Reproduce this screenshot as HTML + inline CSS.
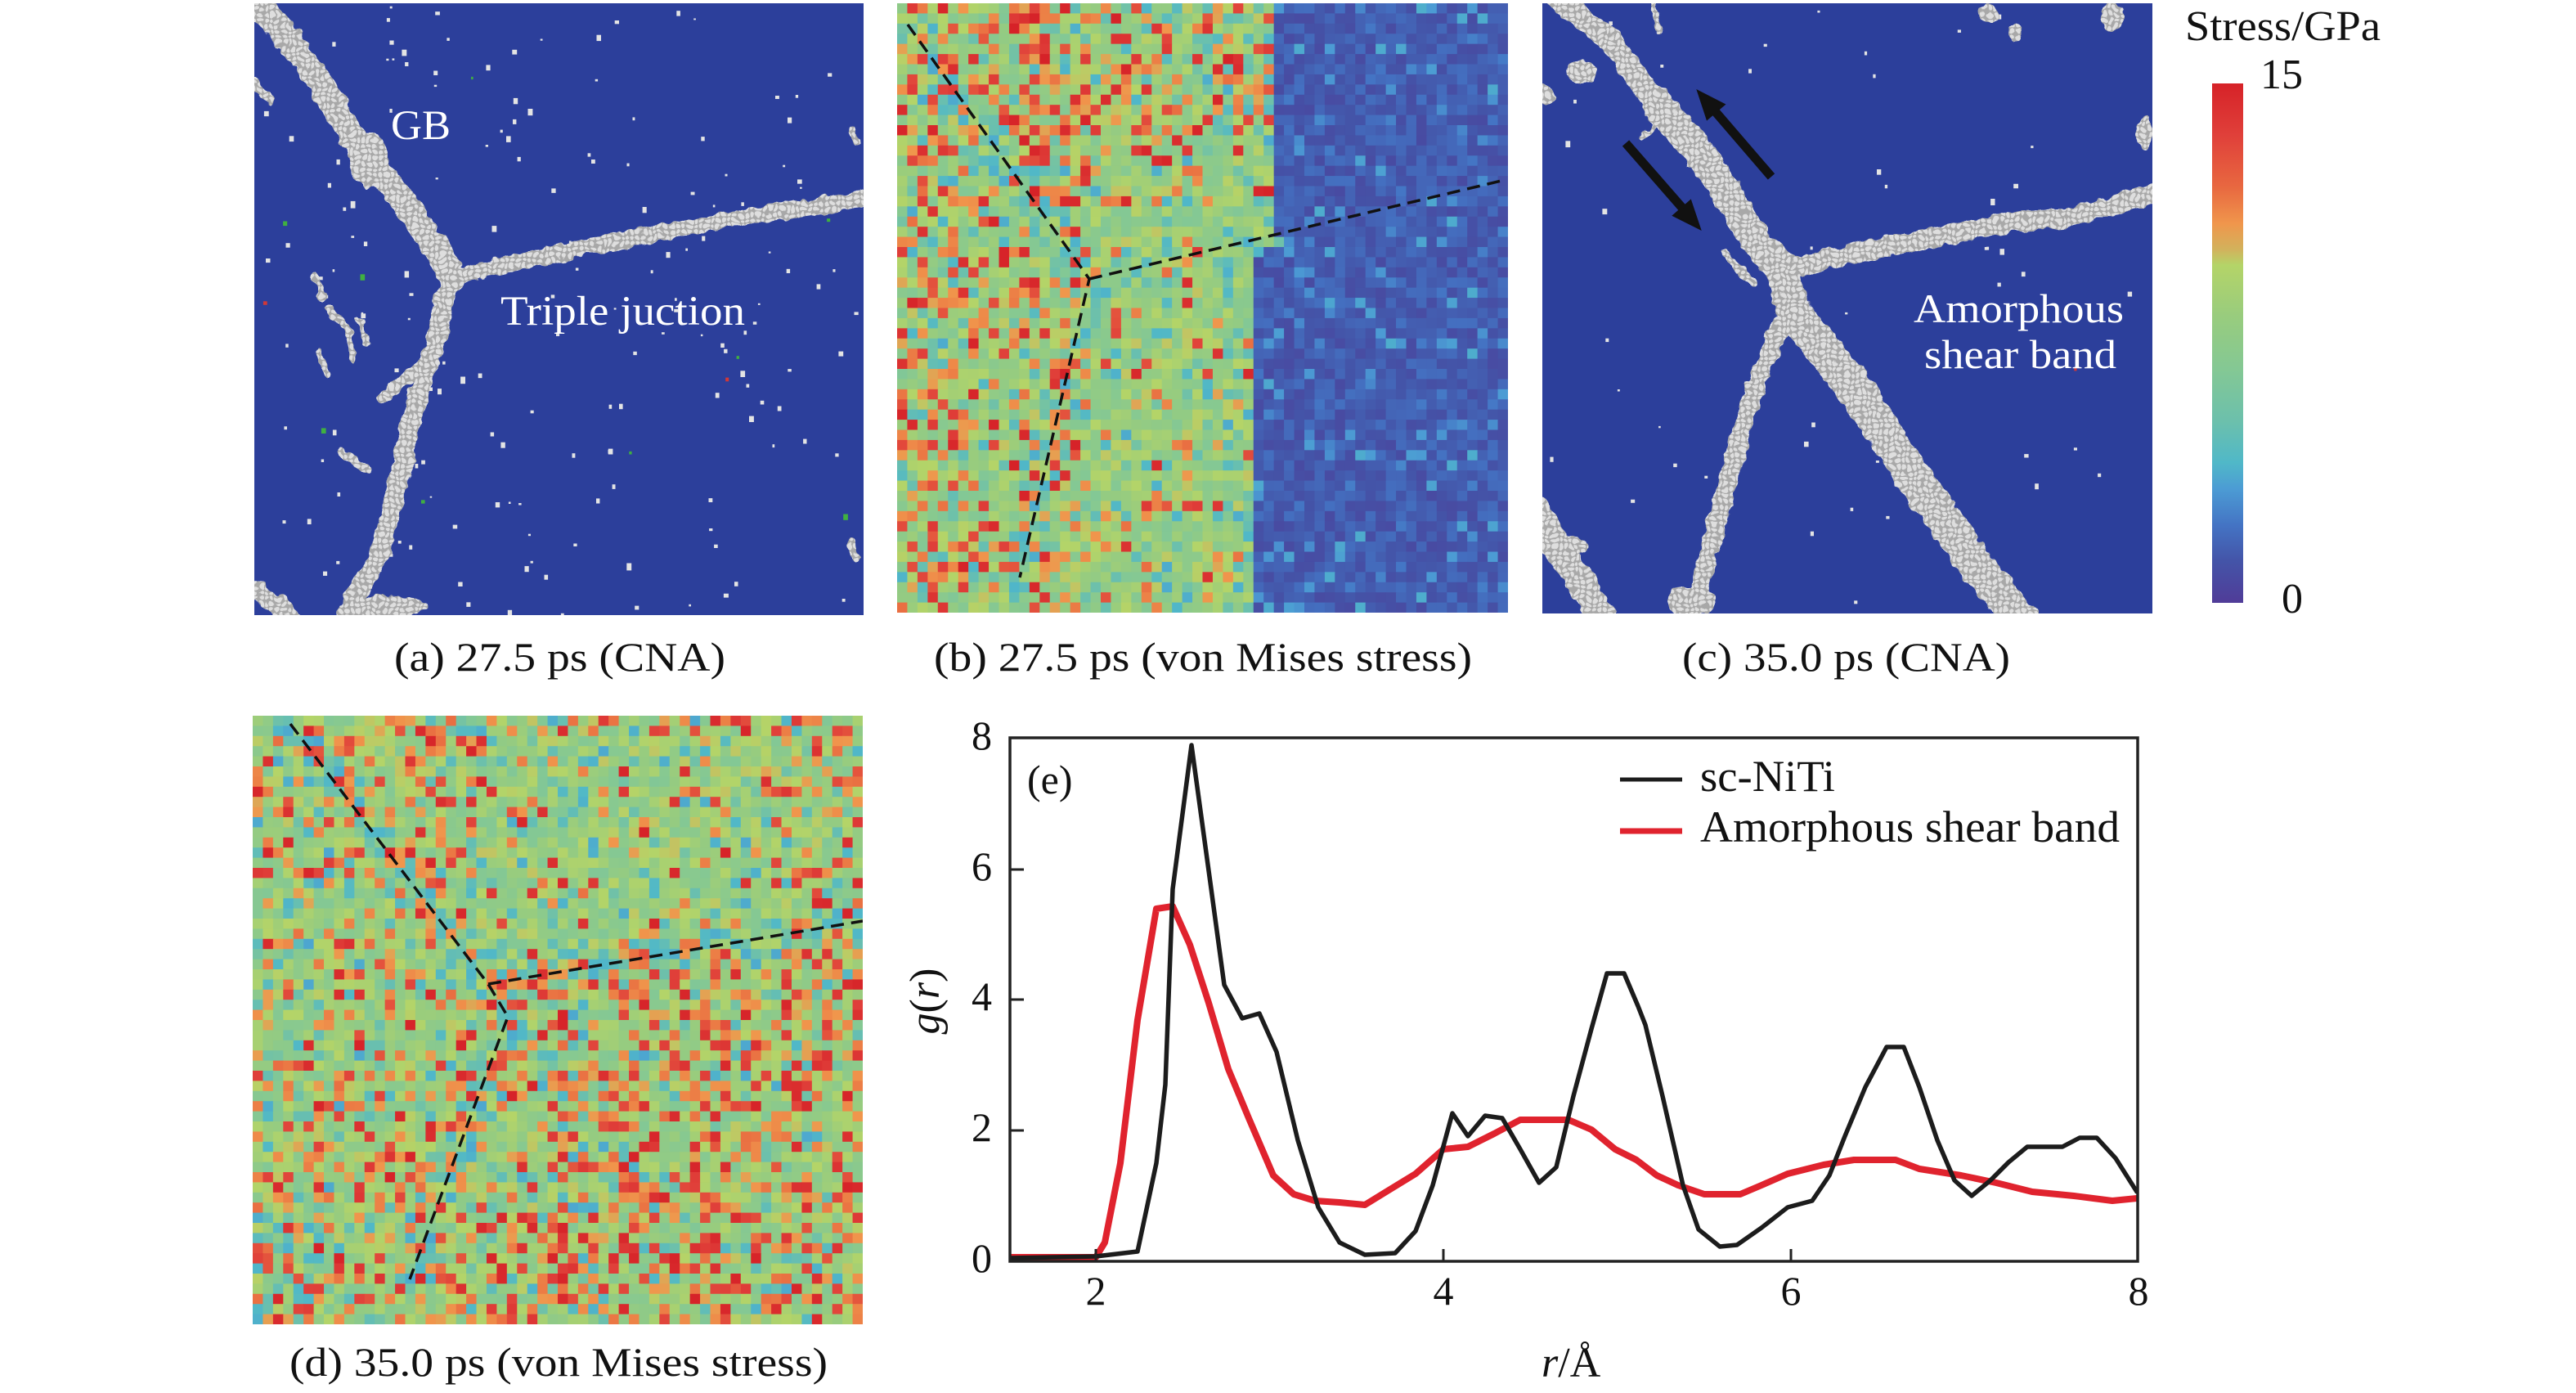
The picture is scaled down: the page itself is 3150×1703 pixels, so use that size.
<!DOCTYPE html>
<html><head><meta charset="utf-8">
<style>
html,body{margin:0;padding:0;background:#fff;}
body{width:3150px;height:1703px;overflow:hidden;}
svg{display:block;}
svg, text{font-family:"Liberation Serif","Times New Roman",Times,Tinos,"Nimbus Roman","FreeSerif",serif;}
</style></head>
<body>
<svg id="fig" width="3150" height="1703" viewBox="0 0 3150 1703" xmlns="http://www.w3.org/2000/svg" font-family="'Liberation Serif', 'Times New Roman', Times, serif">
<defs>
  <pattern id="atom" width="7" height="7" patternUnits="userSpaceOnUse">
    <rect width="7" height="7" fill="#a8a8a8"/>
    <circle cx="3.5" cy="3.5" r="2.9" fill="#dedede"/>
  </pattern>
  <filter id="rough" x="-10%" y="-10%" width="120%" height="120%">
    <feTurbulence type="fractalNoise" baseFrequency="0.07" numOctaves="2" seed="4" result="n"/>
    <feDisplacementMap in="SourceGraphic" in2="n" scale="12" xChannelSelector="R" yChannelSelector="G"/>
  </filter>
  <linearGradient id="cbar" x1="0" y1="0" x2="0" y2="1">
    <stop offset="0" stop-color="#d62228"/>
    <stop offset="0.1" stop-color="#e0403a"/>
    <stop offset="0.2" stop-color="#e86840"/>
    <stop offset="0.27" stop-color="#f0964c"/>
    <stop offset="0.32" stop-color="#d2b25c"/>
    <stop offset="0.35" stop-color="#b4d468"/>
    <stop offset="0.45" stop-color="#98cc7e"/>
    <stop offset="0.55" stop-color="#84c894"/>
    <stop offset="0.65" stop-color="#6cc0ac"/>
    <stop offset="0.73" stop-color="#50b8c8"/>
    <stop offset="0.78" stop-color="#4c9cd4"/>
    <stop offset="0.85" stop-color="#4474c4"/>
    <stop offset="0.92" stop-color="#4454a8"/>
    <stop offset="1" stop-color="#503c98"/>
  </linearGradient>
  <clipPath id="clipA"><rect x="311" y="4" width="745" height="748"/></clipPath>
  <clipPath id="clipB"><rect x="1097" y="4" width="747" height="745"/></clipPath>
  <clipPath id="clipC"><rect x="1886" y="4" width="746" height="746"/></clipPath>
  <clipPath id="clipD"><rect x="309" y="875" width="746" height="744"/></clipPath>
  <clipPath id="clipE"><rect x="1235" y="902" width="1379" height="640"/></clipPath>
</defs>

<!-- ============ Panel (a) CNA ============ -->
<g clip-path="url(#clipA)">
  <rect x="311" y="4" width="745" height="748" fill="#2c3f9b"/>
  <g id="dotsA"></g>
  <g filter="url(#rough)" fill="none" stroke="url(#atom)" stroke-linecap="round" stroke-linejoin="round">
    <polyline points="305,0 337,27 378,81 408,130 439,179 469,217 500,255 526,293 546,325 551,342" stroke-width="32"/>
    <ellipse cx="452" cy="196" rx="24" ry="32" fill="url(#atom)" stroke="none"/>
    <polyline points="551,340 580,333 633,320 693,307 714,302 796,287 878,271 969,257 1062,242" stroke-width="20"/>
    <polyline points="551,342 541,373 533,417 523,447 510,488 500,526 485,596 464,678 439,721 420,758" stroke-width="24"/>
    <polyline points="520,440 492,468 466,486" stroke-width="12"/>
    <polyline points="311,722 340,740 360,758" stroke-width="24"/>
    <ellipse cx="470" cy="742" rx="55" ry="14" fill="url(#atom)" stroke="none"/>
    <polyline points="311,100 330,122" stroke-width="12"/>
    <polyline points="385,338 396,362" stroke-width="9"/>
    <polyline points="402,378 424,402 432,438" stroke-width="9"/>
    <polyline points="440,392 448,420" stroke-width="8"/>
    <polyline points="390,430 400,458" stroke-width="8"/>
    <polyline points="418,553 449,575" stroke-width="10"/>
    <polyline points="420,160 440,172" stroke-width="10"/>
    <polyline points="1042,158 1048,172" stroke-width="10"/>
    <polyline points="1040,662 1046,680" stroke-width="10"/>
  </g>
  <text x="478" y="170" font-size="51" fill="#fff" textLength="73" lengthAdjust="spacingAndGlyphs">GB</text>
  <text x="612" y="397" font-size="51" fill="#fff" textLength="299" lengthAdjust="spacingAndGlyphs">Triple juction</text>
</g>

<!-- ============ Panel (b) stress ============ -->
<g clip-path="url(#clipB)">
  <rect x="1097" y="4" width="747" height="745" fill="#4150aa"/>
  <polygon points="1097,4 1553,4 1553,285 1565,285 1565,305 1540,305 1540,320 1528,320 1528,749 1097,749" fill="#a8b878"/>
  <g id="cellsB"></g>
  <g fill="none" stroke="#111" stroke-width="3.5" stroke-dasharray="16 9">
    <polyline points="1110,30 1332,341 1247,706"/>
    <polyline points="1332,341 1836,221"/>
  </g>
</g>

<!-- ============ Panel (c) CNA ============ -->
<g clip-path="url(#clipC)">
  <rect x="1886" y="4" width="746" height="746" fill="#2c3f9b"/>
  <g id="dotsC"></g>
  <g filter="url(#rough)" fill="none" stroke="url(#atom)" stroke-linecap="round" stroke-linejoin="round">
    <polyline points="1905,-2 1919,10 1972,53 2025,126" stroke-width="28"/>
    <polyline points="2025,126 2084,194 2122,252 2151,300 2181,330" stroke-width="38"/>
    <polyline points="2181,330 2244,315 2316,300 2389,286 2462,271 2525,267 2583,252 2638,234" stroke-width="24"/>
    <polyline points="2181,330 2190,378" stroke-width="40"/>
    <polyline points="2190,378 2171,412 2151,460 2127,533 2108,606 2088,679 2069,756" stroke-width="23"/>
    <polyline points="2195,383 2229,427 2268,475 2307,533 2345,591 2384,645 2413,688 2447,727 2472,758" stroke-width="44"/>
    <polyline points="1880,625 1905,670 1935,715 1962,758" stroke-width="34"/>
    <ellipse cx="1912" cy="668" rx="30" ry="14" fill="url(#atom)" stroke="none"/>
    <ellipse cx="2068" cy="735" rx="30" ry="18" fill="url(#atom)" stroke="none"/>
    <ellipse cx="1933" cy="88" rx="19" ry="15" fill="url(#atom)" stroke="none"/>
    <ellipse cx="1890" cy="115" rx="10" ry="12" fill="url(#atom)" stroke="none"/>
    <polyline points="2021,4 2028,38" stroke-width="8"/>
    <ellipse cx="2432" cy="17" rx="11" ry="10" fill="url(#atom)" stroke="none"/>
    <ellipse cx="2464" cy="40" rx="8" ry="11" fill="url(#atom)" stroke="none"/>
    <ellipse cx="2583" cy="20" rx="14" ry="16" fill="url(#atom)" stroke="none"/>
    <ellipse cx="2622" cy="162" rx="10" ry="23" fill="url(#atom)" stroke="none"/>
    <polyline points="2108,310 2142,344" stroke-width="12"/>
    <polyline points="2006,168 2030,148" stroke-width="6"/>
  </g>
  <g fill="#111" stroke="#111">
    <line x1="2166" y1="216" x2="2098" y2="137" stroke-width="11"/>
    <polygon points="2076,111 2108.7,127.7 2087.5,145.9" stroke-width="2"/>
    <line x1="1988" y1="175" x2="2057" y2="254" stroke-width="11"/>
    <polygon points="2079,280 2067.3,245.1 2046.1,263.5" stroke-width="2"/>
  </g>
  <text x="2340" y="394" font-size="50" fill="#fff" textLength="257" lengthAdjust="spacingAndGlyphs">Amorphous</text>
  <text x="2353" y="450" font-size="50" fill="#fff" textLength="235" lengthAdjust="spacingAndGlyphs">shear band</text>
</g>

<!-- ============ Colorbar ============ -->
<rect x="2705" y="102" width="38" height="635" fill="url(#cbar)"/>
<text x="2672" y="49" font-size="52" fill="#111" textLength="239" lengthAdjust="spacingAndGlyphs">Stress/GPa</text>
<text x="2816" y="108" font-size="52" fill="#111" text-anchor="end">15</text>
<text x="2816" y="749" font-size="52" fill="#111" text-anchor="end">0</text>

<!-- ============ Captions ============ -->
<text x="482" y="820" font-size="50" fill="#111" textLength="405" lengthAdjust="spacingAndGlyphs">(a) 27.5 ps (CNA)</text>
<text x="1142" y="820" font-size="50" fill="#111" textLength="658" lengthAdjust="spacingAndGlyphs">(b) 27.5 ps (von Mises stress)</text>
<text x="2057" y="820" font-size="50" fill="#111" textLength="401" lengthAdjust="spacingAndGlyphs">(c) 35.0 ps (CNA)</text>
<text x="354" y="1682" font-size="50" fill="#111" textLength="658" lengthAdjust="spacingAndGlyphs">(d) 35.0 ps (von Mises stress)</text>

<!-- ============ Panel (d) stress ============ -->
<g clip-path="url(#clipD)">
  <rect x="309" y="875" width="746" height="744" fill="#a8b97a"/>
  <g id="cellsD"></g>
  <g fill="none" stroke="#111" stroke-width="3.5" stroke-dasharray="16 9">
    <polyline points="355,885 597,1203 621,1243 501,1564"/>
    <polyline points="597,1203 1055,1126"/>
  </g>
</g>

<!-- ============ Panel (e) g(r) ============ -->
<g clip-path="url(#clipE)" fill="none" stroke-linejoin="round" stroke-linecap="round">
  <polyline stroke="#e0232e" stroke-width="8" points="1236,1537 1340,1537 1351,1519 1370,1422 1391,1247 1414,1111 1434,1108 1455,1155 1478,1226 1502,1307 1527,1367 1557,1437 1582,1460 1608,1468 1638,1470 1669,1473 1695,1457 1731,1435 1765,1405 1795,1402 1827,1386 1859,1369 1918,1369 1946,1381 1975,1405 2001,1418 2026,1437 2052,1449 2084,1460 2128,1460 2154,1449 2186,1435 2230,1424 2267,1418 2318,1418 2347,1429 2398,1437 2441,1446 2485,1457 2536,1462 2583,1468 2613,1465"/>
  <polyline stroke="#1c1c1c" stroke-width="5.5" points="1236,1538 1340,1536 1391,1530 1414,1422 1425,1326 1434,1087 1457,911 1480,1079 1497,1204 1519,1245 1540,1239 1561,1286 1587,1394 1612,1476 1638,1519 1669,1534 1706,1532 1731,1505 1752,1449 1776,1361 1795,1389 1816,1364 1837,1367 1859,1405 1882,1446 1903,1427 1924,1340 1946,1258 1965,1190 1986,1190 2003,1230 2012,1253 2033,1340 2058,1449 2077,1503 2103,1524 2124,1522 2154,1501 2186,1476 2216,1468 2237,1437 2256,1389 2281,1329 2307,1280 2328,1280 2347,1329 2369,1394 2390,1443 2411,1462 2434,1443 2456,1421 2479,1402 2522,1402 2543,1391 2564,1391 2587,1416 2613,1457"/>
</g>
<rect x="1235" y="902" width="1379" height="640" fill="none" stroke="#222" stroke-width="3.5"/>
<g stroke="#222" stroke-width="3">
  <line x1="1340" y1="1542" x2="1340" y2="1527"/>
  <line x1="1765" y1="1542" x2="1765" y2="1527"/>
  <line x1="2190" y1="1542" x2="2190" y2="1527"/>
  <line x1="1235" y1="1382" x2="1252" y2="1382"/>
  <line x1="1235" y1="1222" x2="1252" y2="1222"/>
  <line x1="1235" y1="1063" x2="1252" y2="1063"/>
</g>
<g font-size="50" fill="#111" text-anchor="middle">
  <text x="1340" y="1595">2</text>
  <text x="1765" y="1595">4</text>
  <text x="2190" y="1595">6</text>
  <text x="2615" y="1595">8</text>
</g>
<g font-size="50" fill="#111" text-anchor="end">
  <text x="1213" y="1555">0</text>
  <text x="1213" y="1395">2</text>
  <text x="1213" y="1235">4</text>
  <text x="1213" y="1076">6</text>
  <text x="1213" y="916">8</text>
</g>
<text x="1256" y="970" font-size="50" fill="#111">(e)</text>
<text transform="translate(1148,1224) rotate(-90)" font-size="52" fill="#111" text-anchor="middle"><tspan font-style="italic">g</tspan>(<tspan font-style="italic">r</tspan>)</text>
<text x="1885" y="1683" font-size="52" fill="#111"><tspan font-style="italic">r</tspan>/Å</text>
<!-- legend -->
<line x1="1981" y1="953" x2="2057" y2="953" stroke="#1c1c1c" stroke-width="5"/>
<line x1="1981" y1="1016" x2="2057" y2="1016" stroke="#e0232e" stroke-width="7"/>
<text x="2079" y="967" font-size="54" fill="#111" textLength="165" lengthAdjust="spacingAndGlyphs">sc-NiTi</text>
<text x="2079" y="1029" font-size="54" fill="#111" textLength="513" lengthAdjust="spacingAndGlyphs">Amorphous shear band</text>
</svg>

<script>
(function(){
var NS="http://www.w3.org/2000/svg";
function rng(a){return function(){a|=0;a=a+0x6D2B79F5|0;var t=Math.imul(a^a>>>15,1|a);t=t+Math.imul(t^t>>>7,61|t)^t;return((t^t>>>14)>>>0)/4294967296;};}
var stops=[[0,[80,60,152]],[0.08,[68,84,168]],[0.15,[68,116,196]],[0.22,[76,156,212]],[0.28,[80,184,200]],[0.36,[108,192,172]],[0.45,[132,200,148]],[0.55,[152,204,126]],[0.63,[180,212,104]],[0.67,[210,178,92]],[0.72,[240,150,76]],[0.8,[232,104,64]],[0.9,[224,64,58]],[1,[214,34,40]]];
function cmap(v){v=Math.max(0,Math.min(1,v));for(var i=1;i<stops.length;i++){if(v<=stops[i][0]){var a=stops[i-1],b=stops[i],t=(v-a[0])/(b[0]-a[0]);return "rgb("+Math.round(a[1][0]+t*(b[1][0]-a[1][0]))+","+Math.round(a[1][1]+t*(b[1][1]-a[1][1]))+","+Math.round(a[1][2]+t*(b[1][2]-a[1][2]))+")";}}return "rgb(214,34,40)";}
function sd(px,py,ax,ay,bx,by){var dx=bx-ax,dy=by-ay,t=((px-ax)*dx+(py-ay)*dy)/(dx*dx+dy*dy);t=Math.max(0,Math.min(1,t));var x=ax+t*dx-px,y=ay+t*dy-py;return Math.sqrt(x*x+y*y);}
function build(id,x0,y0,w,h,n,seed,fn){var r=rng(seed),g=document.getElementById(id),cw=w/n,ch=h/n,frag=document.createDocumentFragment();
 for(var j=0;j<n;j++)for(var i=0;i<n;i++){var cx=x0+(i+0.5)*cw,cy=y0+(j+0.5)*ch,v=fn(cx,cy,r);var e=document.createElementNS(NS,"rect");e.setAttribute("x",(x0+i*cw).toFixed(2));e.setAttribute("y",(y0+j*ch).toFixed(2));e.setAttribute("width",(cw+0.6).toFixed(2));e.setAttribute("height",(ch+0.6).toFixed(2));e.setAttribute("fill",cmap(v));frag.appendChild(e);}
 g.appendChild(frag);}
function warm(r){return r()<0.55?0.69+r()*0.1:0.84+r()*0.16;}
function fb(x,y,r){
 var bx=y<285?1553:(y<305?1565:(y<320?1540:1528));
 if(x>bx){var u=r();if(u<0.1)return 0.14+r()*0.12;return 0.05+r()*0.09;}
 var d=Math.min(sd(x,y,1110,30,1332,341),sd(x,y,1332,341,1247,706),sd(x,y,1332,341,1836,221));
 var pr=x<1200?0.36:(x<1330?0.25:0.1);
 if(y<270&&x>1230)pr+=0.36*(1-y/270);
 if(y>640&&x<1260)pr=Math.max(pr,0.26);
 var pc=0.1;if(d<22)pc=0.4;if(x>bx-35)pc=0.3;
 var u=r();
 if(u<pc)return 0.25+r()*0.15;
 if(u<pc+pr)return warm(r);
 return 0.44+r()*0.21;}
function fd(x,y,r){
 var d=Math.min(sd(x,y,355,885,597,1203),sd(x,y,597,1203,621,1243),sd(x,y,621,1243,501,1564),sd(x,y,597,1203,1055,1126));
 var d2=sd(x,y,600,1210,790,1470);
 var pr=0.22;
 if(x>560&&x<1000&&y<1150&&y>905)pr=0.09;
 if(x>940&&y<1080)pr=0.3;
 if(x>800&&x<980&&y<905)pr=0.36;
 if(x>620&&y>1160)pr=0.36;
 if(x>380&&x<600&&y<1130)pr=0.3;
 var pc=0.1;
 if(d<22)pc=0.4;
 if(d2<20)pc=0.35;
 if(x<400&&y>1480)pc=0.3;
 var u=r();
 if(u<pc)return 0.24+r()*0.16;
 if(u<pc+pr)return warm(r);
 return 0.44+r()*0.21;}
function dots(id,x0,y0,w,h,n,seed){var r=rng(seed),g=document.getElementById(id),frag=document.createDocumentFragment();
 for(var k=0;k<n;k++){var e=document.createElementNS(NS,"rect"),s=2.5+r()*3.5,u=r();e.setAttribute("x",(x0+r()*w).toFixed(1));e.setAttribute("y",(y0+r()*h).toFixed(1));e.setAttribute("width",s.toFixed(1));e.setAttribute("height",(s*(0.7+r()*0.8)).toFixed(1));e.setAttribute("fill",u<0.05?"#d03838":(u<0.08?"#40b040":"#e4e4e4"));frag.appendChild(e);}
 g.appendChild(frag);}
try{
 build("cellsB",1097,4,747,745,60,12345,fb);
 build("cellsD",309,875,746,744,60,67890,fd);
 dots("dotsA",311,4,745,748,170,222);
 dots("dotsC",1886,4,746,746,50,333);
}catch(e){}
})();
</script>
</body></html>
